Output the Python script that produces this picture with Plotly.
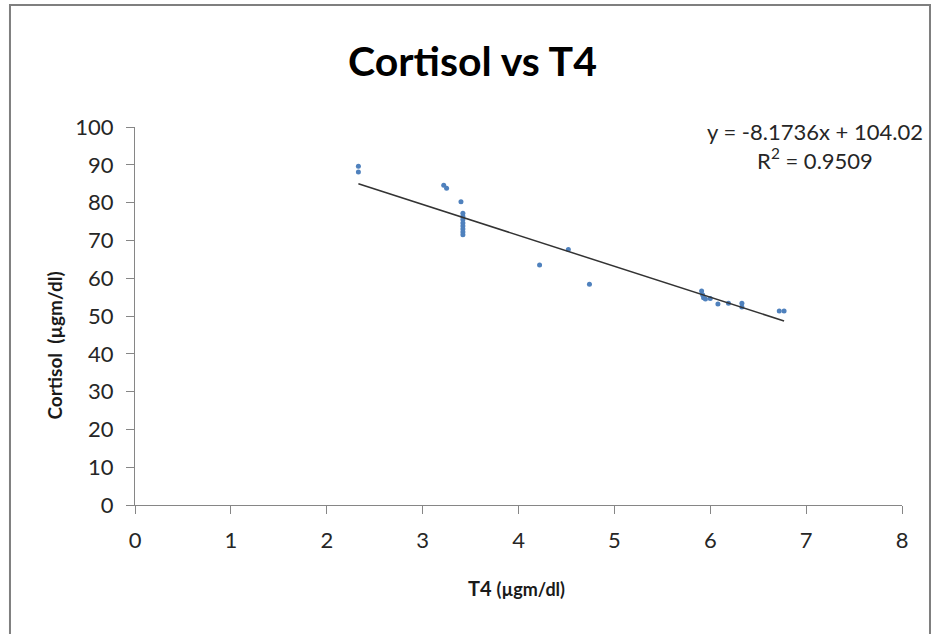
import plotly.graph_objects as go

# Data
t4 = [2.33, 2.33, 3.22, 3.25, 3.40, 3.42, 3.42, 3.42, 3.42, 3.42, 3.42, 3.42, 3.42,
      4.22, 4.52, 4.74,
      5.91, 5.92, 5.93, 5.95, 6.00, 6.08, 6.19, 6.33, 6.33, 6.72, 6.77]
cortisol = [89.6, 88.1, 84.6, 83.8, 80.2, 77.2, 76.3, 75.5, 74.6, 73.8, 73.0, 72.2, 71.5,
            63.5, 67.6, 58.4,
            56.6, 55.6, 54.8, 54.5, 54.6, 53.2, 53.4, 52.4, 53.4, 51.3, 51.3]

# Linear trendline reported on the chart
slope = -8.1736
intercept = 104.02
r_squared = 0.9509

x_ticks = [0, 1, 2, 3, 4, 5, 6, 7, 8]
y_ticks = [0, 10, 20, 30, 40, 50, 60, 70, 80, 90, 100]

trend_x = [min(t4), max(t4)]
trend_y = [slope * v + intercept for v in trend_x]

FONT = "Lato, 'Open Sans', sans-serif"
AXIS_COLOR = "#868686"
TEXT_COLOR = "#262626"

fig = go.Figure()
fig.add_trace(go.Scatter(
    x=t4, y=cortisol, mode="markers",
    marker=dict(symbol="circle", size=5, color="#4F81BD"),
    showlegend=False,
))
fig.add_trace(go.Scatter(
    x=trend_x, y=trend_y, mode="lines",
    line=dict(color="#333333", width=1.5),
    showlegend=False,
))

fig.update_layout(
    width=935, height=634,
    margin=dict(l=135, r=33, t=127, b=129),
    paper_bgcolor="white", plot_bgcolor="white",
    title=dict(text="<b>Cortisol vs T4</b>", x=0.44, xref="paper", xanchor="center",
               y=0.902, yref="container", yanchor="middle",
               font=dict(family=FONT, size=41, color="#000000")),
    xaxis=dict(range=[0, 8], tickvals=x_ticks, showgrid=False, zeroline=False,
               showline=True, linecolor=AXIS_COLOR, linewidth=1,
               ticks="outside", ticklen=8, tickcolor=AXIS_COLOR,
               ticklabelstandoff=8,
               tickfont=dict(family=FONT, size=22, color=TEXT_COLOR)),
    yaxis=dict(range=[0, 100], tickvals=y_ticks, showgrid=False, zeroline=False,
               showline=True, linecolor=AXIS_COLOR, linewidth=1,
               ticks="outside", ticklen=8, tickcolor=AXIS_COLOR,
               ticklabelstandoff=8,
               tickfont=dict(family=FONT, size=22, color=TEXT_COLOR)),
    shapes=[dict(type="rect", xref="paper", yref="paper",
                 x0=-0.163, x1=1.0365, y0=-0.4, y1=1.3228,
                 line=dict(color="#7f7f7f", width=2), fillcolor="rgba(0,0,0,0)",
                 layer="below")],
    annotations=[
        dict(text=f"y = {slope}x + {intercept}<br>R<sup>2</sup> = {r_squared}",
             xref="paper", yref="paper", x=0.887, y=1.03, xanchor="center", yanchor="top",
             showarrow=False, align="center",
             font=dict(family=FONT, size=22, color=TEXT_COLOR)),
        dict(text="<b>T4 <span style='font-size:18px'>(µgm/dl)</span></b>",
             xref="paper", yref="paper", x=0.498, y=-0.22, xanchor="center", yanchor="middle",
             showarrow=False, font=dict(family=FONT, size=20, color="#1a1a1a")),
        dict(text="<b>Cortisol  (µgm/dl)</b>", textangle=-90,
             xref="paper", yref="paper", x=-0.105, y=0.423, xanchor="center", yanchor="middle",
             showarrow=False, font=dict(family=FONT, size=19, color="#1a1a1a")),
    ],
)

fig.write_html("out.html", config={"displayModeBar": False},
               post_script="document.body.style.margin='0';")
